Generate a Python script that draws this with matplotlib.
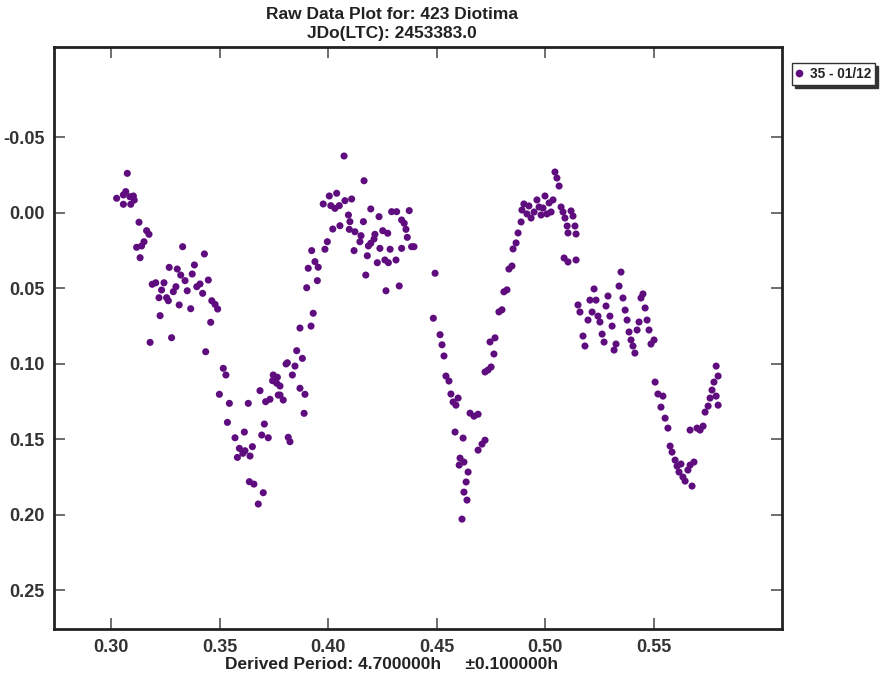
import matplotlib
matplotlib.use("Agg")
import matplotlib.pyplot as plt
import numpy as np

# Session 35 - 01/12 : fractional day vs. relative magnitude
phase = [
    0.3075, 0.3026, 0.3057, 0.3068, 0.3087, 0.3107, 0.3057, 0.3091, 0.3103,
    0.3129, 0.3164, 0.3175, 0.3152, 0.3141, 0.3118, 0.3134, 0.3330, 0.3430,
    0.3384, 0.3268, 0.3305, 0.3321, 0.3374, 0.3341, 0.3190, 0.3206, 0.3244,
    0.3233, 0.3299, 0.3287, 0.3351, 0.3395, 0.3410, 0.3448, 0.3422, 0.3221,
    0.3256, 0.3264, 0.3314, 0.3367, 0.3464, 0.3479, 0.3491, 0.3226, 0.3459,
    0.3180, 0.3279, 0.3436, 0.3517,
    0.3529, 0.3499, 0.3545, 0.3632, 0.3536, 0.3571, 0.3614, 0.3591, 0.3617,
    0.3582, 0.3607, 0.3640, 0.3651, 0.3637, 0.3658, 0.3701, 0.3678, 0.3686,
    0.3706, 0.3694, 0.3724, 0.3712, 0.3732, 0.3747, 0.3744, 0.3766, 0.3763,
    0.3778, 0.3778, 0.3793, 0.3770, 0.3806, 0.3812, 0.3847, 0.3855, 0.3881,
    0.3835, 0.3870, 0.3893, 0.3889, 0.3816, 0.3824, 0.3870, 0.3921,
    0.4073, 0.4165, 0.4005, 0.4039, 0.3977, 0.4012, 0.4031, 0.4051, 0.4077,
    0.4108, 0.4196, 0.4234, 0.4292, 0.4315, 0.4373, 0.4093, 0.4100, 0.4162,
    0.4054, 0.4021, 0.4338, 0.4350, 0.4097, 0.4123, 0.4151, 0.4146, 0.4215,
    0.4211, 0.4251, 0.4274, 0.4358, 0.4364, 0.4196, 0.4185, 0.4238, 0.4285,
    0.4338, 0.4384, 0.4395, 0.3996, 0.3985, 0.3924, 0.4119, 0.4180, 0.3939,
    0.3954, 0.3908, 0.4226, 0.4261, 0.4277, 0.4312, 0.3950, 0.3901, 0.4173,
    0.4266, 0.4327, 0.4492, 0.3931, 0.4484,
    0.4515, 0.4524, 0.4533, 0.4542, 0.4556, 0.4565, 0.4575, 0.4588, 0.4598,
    0.4584, 0.4621, 0.4607, 0.4625, 0.4603, 0.4644, 0.4635, 0.4625, 0.4639,
    0.4616, 0.4653, 0.4671, 0.4690, 0.4708, 0.4722, 0.4690,
    0.4722, 0.4736, 0.4750, 0.4763, 0.4745, 0.4768, 0.4786, 0.4800, 0.4809,
    0.4823, 0.4832, 0.4846, 0.4851, 0.4865, 0.4874, 0.4888, 0.4892, 0.4901,
    0.4915, 0.4924, 0.4934, 0.4948, 0.4961, 0.4971, 0.4980, 0.4989, 0.4998,
    0.5007, 0.5017, 0.5026, 0.5035, 0.5044, 0.5053, 0.5063, 0.5072, 0.5081,
    0.5090, 0.5100, 0.5104, 0.5118, 0.5127, 0.5136, 0.5141, 0.5086, 0.5104,
    0.5141,
    0.5150, 0.5159, 0.5173, 0.5182, 0.5196, 0.5205, 0.5215, 0.5224, 0.5233,
    0.5242, 0.5251, 0.5261, 0.5270, 0.5279, 0.5288, 0.5297, 0.5307, 0.5316,
    0.5325, 0.5339, 0.5348, 0.5357, 0.5367, 0.5376, 0.5385, 0.5394, 0.5403,
    0.5412, 0.5422, 0.5431, 0.5440, 0.5449, 0.5459, 0.5468, 0.5477, 0.5486,
    0.5500,
    0.5505, 0.5518, 0.5532, 0.5541, 0.5551, 0.5564, 0.5574, 0.5583, 0.5597,
    0.5606, 0.5615, 0.5624, 0.5633, 0.5643, 0.5656, 0.5666, 0.5675, 0.5684,
    0.5666, 0.5698, 0.5712, 0.5726, 0.5735, 0.5749, 0.5758, 0.5767, 0.5776,
    0.5786, 0.5795, 0.5786, 0.5795,
]
mag = [
    -0.0261, -0.0096, -0.0118, -0.0140, -0.0106, -0.0084, -0.0056, -0.0056, -0.0111,
    0.0063, 0.0119, 0.0143, 0.0192, 0.0220, 0.0229, 0.0298, 0.0225, 0.0273,
    0.0346, 0.0362, 0.0373, 0.0413, 0.0406, 0.0450, 0.0474, 0.0464, 0.0464,
    0.0512, 0.0490, 0.0523, 0.0517, 0.0490, 0.0472, 0.0446, 0.0534, 0.0563,
    0.0563, 0.0583, 0.0611, 0.0636, 0.0583, 0.0607, 0.0638, 0.0682, 0.0726,
    0.0859, 0.0828, 0.0921, 0.1031,
    0.1075, 0.1203, 0.1263, 0.1263, 0.1389, 0.1491, 0.1453, 0.1561, 0.1577,
    0.1621, 0.1594, 0.1612, 0.1550, 0.1782, 0.1798, 0.1855, 0.1930, 0.1179,
    0.1400, 0.1473, 0.1491, 0.1252, 0.1236, 0.1075, 0.1113, 0.1090, 0.1130,
    0.1148, 0.1208, 0.1241, 0.1208, 0.1002, 0.0994, 0.1016, 0.0914, 0.0965,
    0.1075, 0.1163, 0.1203, 0.1329, 0.1488, 0.1517, 0.0764, 0.0751,
    -0.0376, -0.0212, -0.0111, -0.0129, -0.0058, -0.0047, -0.0029, -0.0047, -0.0080,
    -0.0091, -0.0025, 0.0026, -0.0007, -0.0007, -0.0014, 0.0015, 0.0059, 0.0059,
    0.0086, 0.0108, 0.0048, 0.0070, 0.0110, 0.0126, 0.0152, 0.0192, 0.0143,
    0.0174, 0.0119, 0.0136, 0.0110, 0.0163, 0.0202, 0.0220, 0.0236, 0.0242,
    0.0236, 0.0225, 0.0225, 0.0192, 0.0242, 0.0251, 0.0251, 0.0285, 0.0324,
    0.0361, 0.0368, 0.0331, 0.0313, 0.0331, 0.0313, 0.0450, 0.0497, 0.0413,
    0.0517, 0.0485, 0.0401, 0.0666, 0.0699,
    0.0808, 0.0875, 0.0949, 0.1082, 0.1115, 0.1201, 0.1254, 0.1275, 0.1228,
    0.1453, 0.1493, 0.1626, 0.1652, 0.1672, 0.1718, 0.1784, 0.1851, 0.1904,
    0.2030, 0.1328, 0.1348, 0.1335, 0.1533, 0.1507, 0.1573,
    0.1055, 0.1042, 0.1022, 0.0936, 0.0856, 0.0829, 0.0657, 0.0643, 0.0524,
    0.0511, 0.0373, 0.0353, 0.0240, 0.0200, 0.0134, 0.0061, -0.0018, -0.0058,
    0.0008, -0.0045, 0.0035, -0.0005, -0.0085, -0.0038, 0.0015, -0.0031, -0.0111,
    0.0008, -0.0065, -0.0005, -0.0085, -0.0270, -0.0230, -0.0177, -0.0038, -0.0005,
    0.0035, 0.0088, 0.0134, -0.0012, 0.0022, 0.0088, 0.0141, 0.0300, 0.0326,
    0.0313,
    0.0611, 0.0658, 0.0817, 0.0883, 0.0711, 0.0579, 0.0658, 0.0505, 0.0579,
    0.0685, 0.0724, 0.0804, 0.0857, 0.0618, 0.0552, 0.0685, 0.0751, 0.0910,
    0.0870, 0.0486, 0.0393, 0.0565, 0.0645, 0.0711, 0.0790, 0.0843, 0.0883,
    0.0930, 0.0777, 0.0724, 0.0565, 0.0538, 0.0631, 0.0711, 0.0777, 0.0870,
    0.0843,
    0.1122, 0.1201, 0.1288, 0.1215, 0.1361, 0.1427, 0.1546, 0.1586, 0.1639,
    0.1679, 0.1718, 0.1665, 0.1751, 0.1778, 0.1705, 0.1672, 0.1811, 0.1652,
    0.1440, 0.1427, 0.1440, 0.1414, 0.1321, 0.1281, 0.1228, 0.1175, 0.1122,
    0.1016, 0.1082, 0.1215, 0.1275,
]

x_ticks = [0.30, 0.35, 0.40, 0.45, 0.50, 0.55]
y_ticks = [-0.05, 0.00, 0.05, 0.10, 0.15, 0.20, 0.25]
series_label = "35 - 01/12"
title_lines = ["Raw Data Plot for: 423 Diotima", "JDo(LTC): 2453383.0"]
period_text = "Derived Period: 4.700000h     \u00b10.100000h"

narrow = ["Liberation Sans Narrow", "Liberation Sans", "DejaVu Sans"]
regular = ["Liberation Sans", "DejaVu Sans"]
dot_color = "#5e0c7e"
frame_color = "#222222"

fig = plt.figure(figsize=(8.8, 6.79), dpi=100)
ax = fig.add_axes([0.0617, 0.0732, 0.8269, 0.8580])

ax.scatter(phase, mag, s=26, color=dot_color, edgecolors="none", zorder=3)

ax.set_xlim(0.2739, 0.6089)
ax.set_ylim(0.2760, -0.1100)
ax.set_xticks(x_ticks)
ax.set_yticks(y_ticks)
ax.set_xticklabels([f"{v:.2f}" for v in x_ticks], fontfamily=regular,
                   fontweight="bold", fontsize=13, color="#333333")
ax.set_yticklabels([f"{v:.2f}" for v in y_ticks], fontfamily=regular,
                   fontweight="bold", fontsize=13, color="#333333")
ax.tick_params(axis="both", direction="in", length=8, width=1.2,
               color="#555555", top=True, right=True, pad=7)

for sp in ax.spines.values():
    sp.set_linewidth(2.0)
    sp.set_color(frame_color)

cx = 0.4455
fig.text(cx, 0.979, title_lines[0], ha="center", va="center",
         fontfamily=narrow, fontweight="bold", fontsize=12.5, color="#222222")
fig.text(cx, 0.951, title_lines[1], ha="center", va="center",
         fontfamily=narrow, fontweight="bold", fontsize=12.5, color="#222222")
fig.text(cx, 0.021, period_text, ha="center", va="center",
         fontfamily=narrow, fontweight="bold", fontsize=12.5, color="#222222")

handle = plt.Line2D([], [], linestyle="none", marker="o", markersize=4.5,
                    color=dot_color)
leg = fig.legend([handle], [series_label], loc="upper left",
                 bbox_to_anchor=(0.9, 0.907), frameon=True, fancybox=False,
                 shadow={"color": "#333333", "alpha": 1.0}, handlelength=0.5,
                 handletextpad=0.5, borderpad=0.3, borderaxespad=0.0,
                 prop={"family": regular, "weight": "bold", "size": 9.8})
leg.get_frame().set_edgecolor("#333333")
leg.get_frame().set_linewidth(1.0)
for t in leg.get_texts():
    t.set_color("#222222")

fig.savefig("out.png", dpi=100, facecolor="white")
